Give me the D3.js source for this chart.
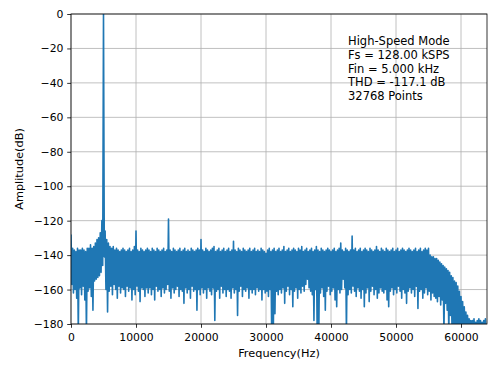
<!DOCTYPE html>
<html lang="en">
  <head>
    <meta charset="utf-8" />
    <title>FFT spectrum</title>
    <script src="https://cdnjs.cloudflare.com/ajax/libs/d3/7.8.5/d3.min.js"></script>
    <style>
      body {
        margin: 0;
        background: #fff;
      }
      svg text {
        font-family: "DejaVu Sans", sans-serif;
        fill: #000;
      }
      .grid line {
        stroke: #b0b0b0;
        stroke-width: 0.8;
      }
      .axis path {
        display: none;
      }
      .axis line {
        stroke: #000;
        stroke-width: 0.8;
      }
      .axis text {
        font-size: 10.8px;
      }
    </style>
  </head>
  <body>
    <svg id="chart" width="500" height="375"></svg>
    <script>
      // spectrum, one pair per 250 Hz bin (peak / floor of each bin)
      const binHz = 250;
      const hiDb = [
        -128, -136, -137, -138, -136, -137, -137, -136, -137, -138, -136, -136, -134, -136, -135, -133,
        -131, -130, -127, -120, 0, -126, -131, -133, -135, -136, -135, -137, -136, -137, -138, -137,
        -136, -137, -138, -137, -136, -138, -137, -135, -126, -137, -138, -136, -137, -138, -137, -136,
        -137, -138, -136, -137, -138, -136, -137, -138, -137, -136, -138, -137, -119, -137, -138, -136,
        -137, -138, -137, -136, -138, -137, -136, -138, -137, -138, -136, -137, -138, -137, -136, -137,
        -131, -137, -138, -136, -137, -138, -137, -136, -135, -138, -137, -136, -138, -137, -136, -138,
        -137, -136, -138, -137, -132, -137, -138, -136, -137, -138, -136, -137, -138, -137, -136, -138,
        -137, -136, -138, -137, -138, -136, -137, -138, -139, -137, -136, -138, -137, -136, -138, -137,
        -136, -138, -137, -135, -138, -137, -136, -138, -137, -136, -137, -138, -136, -137, -135, -138,
        -137, -136, -138, -137, -136, -138, -137, -135, -137, -138, -136, -137, -138, -137, -136, -137,
        -138, -137, -136, -138, -137, -136, -133, -137, -138, -136, -137, -138, -137, -129, -137, -136,
        -138, -137, -136, -138, -137, -136, -137, -138, -136, -137, -138, -137, -135, -137, -138, -136,
        -137, -138, -136, -137, -138, -137, -136, -138, -137, -136, -138, -137, -136, -137, -138, -137,
        -136, -137, -138, -137, -136, -138, -137, -136, -138, -137, -136, -137, -136, -140, -141, -141,
        -142, -142, -143, -144, -145, -146, -147, -148, -149, -150, -152, -153, -155, -156, -158, -161,
        -164, -167, -170, -173, -175, -177, -178, -178, -177, -179, -178, -177, -178, -179, -178, -177,
      ];
      const loDb = [
        -157, -162, -160, -165, -185, -159, -163, -158, -166, -185, -161, -159, -164, -172, -155, -154,
        -153, -152, -150, -146, -141, -160, -173, -161, -158, -163, -157, -160, -165, -158, -162, -159,
        -160, -164, -158, -161, -159, -166, -160, -163, -158, -161, -167, -159, -160, -164, -159, -162,
        -159, -163, -160, -166, -158, -161, -160, -164, -159, -162, -160, -157, -161, -165, -159, -162,
        -160, -158, -164, -160, -161, -168, -159, -162, -160, -165, -158, -161, -160, -172, -160, -163,
        -159, -162, -160, -165, -159, -161, -163, -159, -178, -161, -160, -165, -158, -162, -160, -164,
        -160, -161, -165, -159, -162, -160, -175, -161, -158, -164, -160, -161, -159, -165, -160, -162,
        -160, -163, -159, -161, -160, -166, -160, -162, -161, -164, -160, -185, -185, -174, -161, -163,
        -160, -162, -159, -168, -161, -158, -163, -160, -170, -161, -159, -165, -160, -162, -158, -161,
        -157, -154, -159, -161, -163, -178, -160, -185, -185, -162, -159, -164, -172, -161, -158, -163,
        -161, -159, -166, -170, -160, -162, -160, -154, -159, -185, -163, -160, -162, -158, -161, -164,
        -159, -161, -165, -160, -170, -162, -159, -167, -161, -158, -163, -160, -165, -162, -159, -161,
        -162, -160, -166, -170, -161, -159, -163, -160, -162, -158, -161, -165, -160, -162, -168, -161,
        -159, -162, -160, -164, -158, -171, -161, -160, -165, -162, -159, -163, -161, -166, -162, -164,
        -165, -167, -164, -169, -166, -185, -168, -172, -185, -175, -185, -185, -185, -185, -185, -185,
        -185, -185, -185, -185, -185, -185, -185, -185, -185, -185, -185, -185, -185, -185, -185, -185,
      ];
      const xTicks = [0, 10000, 20000, 30000, 40000, 50000, 60000];
      const yTicks = [-180, -160, -140, -120, -100, -80, -60, -40, -20, 0];
      const infoLines = [
        "High-Speed Mode",
        "Fs = 128.00 kSPS",
        "Fin = 5.000 kHz",
        "THD = -117.1 dB",
        "32768 Points",
      ];

      const W = 500;
      const H = 375;
      const margin = { top: 14, right: 13, bottom: 51, left: 71 };
      const svg = d3.select("#chart");

      const x = d3
        .scaleLinear()
        .domain([0, 64000])
        .range([margin.left, W - margin.right]);
      const y = d3
        .scaleLinear()
        .domain([-180, 0])
        .range([H - margin.bottom, margin.top]);

      // grid under the data
      const grid = svg.append("g").classed("grid", true);
      grid
        .selectAll("line.v")
        .data(xTicks)
        .join("line")
        .attr("x1", (d) => x(d))
        .attr("x2", (d) => x(d))
        .attr("y1", y(-180))
        .attr("y2", y(0));
      grid
        .selectAll("line.h")
        .data(yTicks)
        .join("line")
        .attr("class", "h")
        .attr("x1", x(0))
        .attr("x2", x(64000))
        .attr("y1", (d) => y(d))
        .attr("y2", (d) => y(d));

      svg
        .append("clipPath")
        .attr("id", "plotclip")
        .append("rect")
        .attr("x", x(0))
        .attr("y", y(0))
        .attr("width", x(64000) - x(0))
        .attr("height", y(-180) - y(0));

      // each bin: top value, then floor value half a bin later
      const pts = [];
      hiDb.forEach((v, i) => {
        pts.push([i * binHz, v]);
        pts.push([i * binHz + binHz / 2, loDb[i]]);
      });

      const line = d3
        .line()
        .x((d) => x(d[0]))
        .y((d) => y(d[1]));

      svg
        .append("path")
        .attr("clip-path", "url(#plotclip)")
        .attr("d", line(pts))
        .attr("fill", "none")
        .attr("stroke", "#1f77b4")
        .attr("stroke-width", 1.6)
        .attr("stroke-linejoin", "round");

      // axes
      svg
        .append("g")
        .classed("axis", true)
        .attr("transform", `translate(0,${y(-180)})`)
        .call(
          d3
            .axisBottom(x)
            .tickValues(xTicks)
            .tickSize(3.8)
            .tickPadding(5.6)
            .tickFormat(d3.format("d"))
        );

      svg
        .append("g")
        .classed("axis", true)
        .attr("transform", `translate(${x(0)},0)`)
        .call(
          d3
            .axisLeft(y)
            .tickValues(yTicks)
            .tickSize(3.8)
            .tickPadding(3.8)
            .tickFormat((d) => (d < 0 ? "\u2212" + Math.abs(d) : d))
        );

      // frame
      svg
        .append("rect")
        .attr("x", x(0))
        .attr("y", y(0))
        .attr("width", x(64000) - x(0))
        .attr("height", y(-180) - y(0))
        .attr("fill", "none")
        .attr("stroke", "#000")
        .attr("stroke-width", 0.8);

      svg
        .append("text")
        .attr("x", (x(0) + x(64000)) / 2)
        .attr("y", 357)
        .attr("text-anchor", "middle")
        .style("font-size", "11.3px")
        .text("Frequency(Hz)");

      svg
        .append("text")
        .attr("transform", `translate(22.5,${(y(0) + y(-180)) / 2}) rotate(-90)`)
        .attr("text-anchor", "middle")
        .style("font-size", "11.3px")
        .text("Amplitude(dB)");

      svg
        .append("g")
        .selectAll("text")
        .data(infoLines)
        .join("text")
        .attr("x", 348)
        .attr("y", (d, i) => 45 + i * 13.75)
        .style("font-size", "11.5px")
        .text((d) => d);
    </script>
  </body>
</html>
